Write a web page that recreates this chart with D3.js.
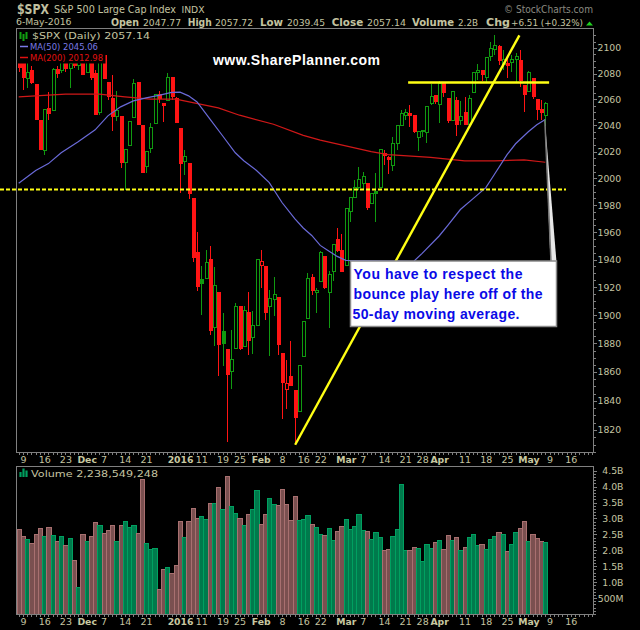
<![CDATA[<!DOCTYPE html>
<html><head><meta charset="utf-8">
<script src="https://cdn.jsdelivr.net/npm/d3@7"></script>
<style>html,body{margin:0;padding:0;background:#000;overflow:hidden}svg{display:block}</style>
</head><body><div id="c"></div>
<script>
const opens=[2094.5,2092.1,2075.8,2082,2071.1,2043.5,2020.7,2052.6,2051.1,2082.8,2082,2089,2083.6,2090.6,2085.9,2090.6,2081.2,2090.6,2079.7,2049.6,2094.5,2072.7,2060.4,2046.5,2046.5,2012.1,2024.5,2045.8,2072.7,2039.7,2008.8,2022.3,2041.2,2063.4,2056.5,2058.8,2076.6,2060.4,2037.4,2012.5,2011,1984.8,1945.3,1925.7,1926.4,1940.2,1891.5,1916.4,1888.7,1876,1860.6,1876.7,1906.4,1878.1,1902.2,1884.4,1893,1935.8,1935,1906.4,1911.4,1912.8,1873.2,1847.5,1857.1,1846.8,1833,1871.1,1897.9,1927.1,1916.4,1924.3,1942.3,1916.4,1931.5,1954.7,1946.7,1935.8,1975.2,1985.6,1993,1996,1996,1981,1990,1993,2018.5,2015.5,2009.5,2026,2039.7,2047.3,2048.8,2047.3,2030.6,2035.1,2034.4,2056.5,2062.7,2055.7,2071.9,2060.4,2043.5,2058.8,2043.5,2049.6,2040.4,2065,2080.8,2082,2077.3,2093.7,2099.2,2100.8,2087.1,2088.2,2088.6,2090.6,2089.8,2070.4,2065.7,2075.8,2059.6,2051.9,2047.77];
const highs=[2098.4,2094.5,2088.2,2085.9,2071.1,2044.3,2051.9,2065.7,2084.3,2085.9,2092.1,2092.1,2090.6,2093.7,2092.9,2092.9,2092.9,2094.5,2082.8,2098.4,2096.9,2072.7,2078.9,2066.5,2046.5,2021.5,2042.7,2075.8,2073.4,2039.7,2020,2042,2063.4,2066.5,2056.5,2080.5,2076.6,2061.9,2037.4,2021.5,2011,1984.8,1959.8,1935,1946.7,1949.6,1934.3,1916.4,1901.5,1876,1889.4,1908.5,1906.4,1906.4,1916.4,1902.9,1940.2,1946.7,1935,1917.8,1927.1,1912.8,1873.2,1868.3,1881.6,1846.8,1864.8,1895.8,1930,1929.3,1919.2,1946,1942.3,1931.5,1951,1962.7,1958.4,1977.4,1985.6,1999,2008.8,2005,1996,1988.5,2004.3,2021.5,2021.5,2017,2031.4,2039.7,2051.9,2052.6,2055.7,2047.3,2035.9,2036.6,2055,2071.9,2062.7,2074.2,2071.9,2060.4,2066.5,2061.9,2058.8,2061.9,2063.4,2081.2,2087.5,2082,2092.9,2104.7,2110.2,2102.4,2098.4,2092.9,2094.5,2096.1,2098.4,2070.4,2082,2075.8,2059.6,2059.6,2057.72];
const lows=[2081.2,2067.3,2068.8,2071.9,2044.3,2021.5,2017.8,2044.3,2051.1,2076.6,2080.5,2081.2,2068.8,2084.3,2082.8,2078.9,2081.2,2075,2048,2048,2075.8,2059.6,2035.9,2043.5,2008,1991.5,2024.5,2045.8,2040.4,2004.3,2004.3,2019.2,2041.2,2057.3,2042.7,2058.8,2059.6,2042,1989.3,2002.8,1984.8,1938,1917.1,1900,1926.4,1885.9,1878.1,1857.1,1864.1,1812,1848.2,1876.7,1875.3,1878.1,1871.8,1872.5,1893,1919.2,1896.5,1871.1,1899.3,1871.8,1827.6,1834.4,1850.9,1810,1833,1871.1,1897.9,1914.2,1901.5,1924.3,1918.5,1890.8,1924.3,1945.3,1930.7,1935.8,1967.8,1985.6,1991.5,1991.5,1976,1981,1967.8,1993,2010.3,2003.5,2005.8,2021.5,2039.7,2044.3,2039,2034.4,2020.7,2031.4,2026.8,2055.7,2056.5,2042,2061.9,2042,2043.5,2032.1,2040.4,2040.4,2040.4,2065,2075,2074.2,2072.7,2089.8,2094.5,2086.7,2082.8,2076.6,2081.2,2073.4,2069.6,2050.4,2065.7,2060.4,2044.3,2044.3,2039.45];
const closes=[2085.1,2077.3,2080.5,2073.4,2044.3,2021.5,2051.9,2048.8,2082.8,2079.7,2089,2084.3,2087.5,2086.3,2090.6,2078.9,2090.6,2077.3,2048,2098.4,2075.8,2061.9,2046.5,2051.1,2011.8,2021.5,2042.7,2071.9,2040.4,2004.3,2020,2038.2,2063.4,2060.4,2055,2077.3,2061.9,2042,2011.4,2016.3,1988.5,1941.6,1920.7,1922.8,1938,1889.4,1921.4,1879.5,1880.2,1858.5,1869,1906.4,1876.7,1903.6,1882.3,1893,1940.2,1938.7,1902.2,1912.1,1914.9,1879.5,1853,1852.3,1850.9,1828.3,1864.8,1895.8,1926.4,1917.8,1917.8,1945.3,1919.9,1929.3,1951,1946.7,1931.5,1977.4,1985.6,1993,1999,2001.3,1978.2,1988.5,1988.5,2021.5,2017,2014,2026,2039.7,2048.8,2049.6,2047.3,2035.1,2035.1,2035.9,2054.2,2061.9,2058,2071.9,2065,2043.5,2065.7,2040.4,2046.5,2040.4,2060.4,2081.2,2082,2078.9,2092.9,2100,2101.6,2089.8,2091,2085.9,2090.6,2093.7,2074.2,2063.4,2080.5,2061.9,2051.9,2049.6,2057.14];
const volumes=[2.67,2.45,2.36,2.23,2.52,2.70,2.45,2.73,2.48,2.29,2.45,2.17,2.39,1.70,0.85,2.51,2.29,2.45,2.89,2.80,2.54,2.64,2.80,2.29,2.80,2.92,2.73,2.80,2.54,4.24,2.23,2.04,2.07,0.79,1.41,1.48,1.29,1.54,2.92,2.42,2.92,3.33,3.02,3.08,2.98,3.49,3.49,3.99,3.30,4.33,3.39,3.17,3.02,2.80,3.14,3.30,3.90,2.83,3.14,3.64,3.46,3.42,3.93,3.46,2.95,3.71,2.95,2.98,3.11,2.83,2.73,2.51,2.48,2.70,2.32,2.61,2.76,2.98,2.67,2.76,3.14,2.64,2.61,2.36,2.58,2.42,2.01,2.04,2.45,2.67,4.08,2.01,2.01,2.10,2.07,1.66,2.20,2.07,2.26,2.32,2.04,2.48,2.32,2.42,2.01,2.10,2.42,2.51,2.17,2.20,2.04,2.36,2.45,2.58,2.51,1.98,2.20,2.58,2.70,2.92,2.29,2.51,2.39,2.29,2.26];
const ma50Idx=[0,4,7,10,14,18,21,24,27,30,33,36,38,40,42,45,48,51,53,56,59,62,65,67,69,71,73,75,77,93,95,99,101,104,107,110,112,115,117,120,122,124];
const ma50Val=[1996.2,2005.8,2011,2019.2,2027.6,2036.6,2047.3,2054.2,2058.8,2061.1,2063,2065.4,2065.5,2062.7,2058,2045,2032.1,2019.2,2013.2,2005.8,1996.7,1981.9,1970,1963.1,1957.6,1950.3,1946.2,1942.3,1939.4,1938.7,1944.5,1957.2,1964.9,1976.7,1984.8,1993,2002.8,2017.8,2026,2035.1,2040.4,2044.5];
const ma200Idx=[0,7,11,19,25,31,37,43,47,52,60,67,71,83,87,97,105,112,119,124];
const ma200Val=[2061.9,2063.2,2064,2064,2061.9,2060.1,2060.1,2056.1,2053.4,2047.8,2040.9,2032.4,2028.8,2020,2017.8,2015.7,2013,2013,2013.8,2012];
const dateIdx=[1,6,11,16,20,25,30,38,43,48,52,57,62,67,71,77,81,86,91,95,99,105,110,115,120,125,130];
const dateLabels=["9","16","23","Dec","7","14","21","2016","11","19","25","Feb","8","16","22","Mar","7","14","21","28","Apr","11","18","25","May","9","16"];
const priceTicks=[1820,1840,1860,1880,1900,1920,1940,1960,1980,2000,2020,2040,2060,2080,2100];
const volumeTicks=[0.5,1,1.5,2,2.5,3,3.5,4,4.5];
const support=1991.5, resistance=2073;
const trendIdx=[65.1,117.9], trendVal=[1810,2110];
const calloutLines=["You have to respect the","bounce play here off of the","50-day moving average."];

const W=640,H=630,TAN="#c4c4a0",GREY="#808080";
const svg=d3.select("#c").append("svg").attr("width",W).attr("height",H).style("background","#000");
const x=d3.scaleLinear().domain([0,124]).range([18.7,545.3]);
const y=d3.scaleLog().domain([1820,2100]).range([430,48]);
const v=d3.scaleLinear().domain([0,4.5]).range([614,470.7]);
const L=16.5,R=593.5,T=28.5,B=452.5,VT=466.5,VB=614.5;
const up=closes.map((c,i)=>i===0?false:c>=closes[i-1]);
const idx=d3.range(closes.length);

// volume
const bx=i=>Math.round(x(i)-2.1)+.5;
svg.append("g").selectAll("rect").data(idx).join("rect")
 .attr("x",bx).attr("width",i=>bx(i+1)-bx(i))
 .attr("y",i=>Math.round(v(volumes[i]))+.5).attr("height",i=>VB-Math.round(v(volumes[i]))-.5)
 .attr("fill",i=>up[i]?"#007a4c":"#7a5050").attr("stroke",i=>up[i]?"#00a060":"#a87070").attr("stroke-width",1)
 .attr("shape-rendering","crispEdges");

// candles
const cg=svg.append("g").attr("shape-rendering","crispEdges");
const col=i=>up[i]?"#109a10":"#ff1414";
const cx=i=>Math.round(x(i));
cg.selectAll("line").data(idx).join("line")
 .attr("x1",i=>cx(i)+.5).attr("x2",i=>cx(i)+.5)
 .attr("y1",i=>y(highs[i])).attr("y2",i=>y(lows[i])).attr("stroke",col);
cg.selectAll("rect").data(idx).join("rect")
 .attr("x",i=>cx(i)-1).attr("width",3)
 .attr("y",i=>y(Math.max(opens[i],closes[i]))).attr("height",i=>Math.max(1,Math.abs(y(opens[i])-y(closes[i]))))
 .attr("fill",i=>closes[i]>opens[i]?"#000":col(i))
 .attr("stroke",col).attr("stroke-width",1);

const line=d3.line().x(d=>x(d[0])).y(d=>y(d[1]));
svg.append("path").attr("d",line(ma200Idx.map((d,i)=>[d,ma200Val[i]]))).attr("fill","none").attr("stroke","#d01818").attr("stroke-width",1.2);
svg.append("path").attr("d",line(ma50Idx.map((d,i)=>[d,ma50Val[i]]))).attr("fill","none").attr("stroke","#6a6ad8").attr("stroke-width",1.2);

// legend background
svg.append("rect").attr("x",L+1).attr("y",T+1).attr("width",88).attr("height",34).attr("fill","#000");

// frames
const frame=svg.append("g").attr("fill","none").attr("stroke",GREY).attr("shape-rendering","crispEdges");
frame.append("path").attr("d",`M${L},${B}V${T}H${R}V${B}Z`);
frame.append("path").attr("d",`M${L},${VB}V${VT}H${R}V${VB}Z`);

// axes
function styleAxis(a,size){
 a.select(".domain").remove();
 a.selectAll("line").attr("stroke",GREY).attr("shape-rendering","crispEdges");
 a.selectAll("text").attr("fill",TAN).style("font-family","'DejaVu Sans'").style("font-size",size+"px");
}
const minorAxis=a=>{a.select(".domain").remove();a.selectAll("text").remove();a.selectAll("line").attr("stroke",GREY).attr("shape-rendering","crispEdges");};
const days=d3.range(0,136);
[B,VB].forEach(yy=>{
 svg.append("g").attr("transform",`translate(0,${yy})`).call(d3.axisBottom(x).tickValues(days).tickSize(2)).call(minorAxis);
 svg.append("g").attr("transform",`translate(0,${yy})`)
  .call(d3.axisBottom(x).tickValues(dateIdx).tickSize(0).tickPadding(3.5).tickFormat(d=>dateLabels[dateIdx.indexOf(d)]))
  .call(a=>{styleAxis(a,9.5);a.selectAll("line").remove();
   a.selectAll("text").each(function(){const t=d3.select(this).text();
    if(!/^\d{1,2}$/.test(t)) d3.select(this).style("font-weight","bold").style("font-size","9.3px").attr("fill","#c8c8a0");});
  });
});
svg.append("g").attr("transform",`translate(${R},0)`).call(d3.axisRight(y).tickValues(d3.range(1805,2115,5)).tickSize(2)).call(minorAxis);
svg.append("g").attr("transform",`translate(${R},0)`).call(d3.axisRight(y).tickValues(priceTicks).tickSize(3).tickPadding(1).tickFormat(d3.format("d"))).call(a=>styleAxis(a,9.3));
svg.append("g").attr("transform",`translate(${R},0)`).call(d3.axisRight(v).tickValues(d3.range(0,4.6,0.1)).tickSize(2)).call(minorAxis);
svg.append("g").attr("transform",`translate(${R},0)`).call(d3.axisRight(v).tickValues(volumeTicks).tickSize(3).tickPadding(2).tickFormat(d=>d<1?(d*1000)+"M":d.toFixed(1)+"B"))
 .call(a=>{styleAxis(a,9.3);a.selectAll("text").attr("text-anchor","end").attr("x",30);});

// overlays
const over=svg.append("g");
over.append("line").attr("x1",0).attr("x2",566).attr("y1",y(support)).attr("y2",y(support)).attr("stroke","#ffff14").attr("stroke-width",2).attr("stroke-dasharray","4 2");
over.append("line").attr("x1",x(91.7)).attr("x2",x(124.9)).attr("y1",y(resistance)).attr("y2",y(resistance)).attr("stroke","#ffff14").attr("stroke-width",2.4);
over.append("line").attr("x1",x(trendIdx[0])).attr("x2",x(trendIdx[1])).attr("y1",y(trendVal[0])).attr("y2",y(trendVal[1])).attr("stroke","#ffff14").attr("stroke-width",2.4);
over.append("path").attr("d",`M${x(124)-.5},${y(2044.5)}L550.5,262L556.5,262Z`).attr("fill","#e8e8e8");
over.append("path").attr("d",`M${x(124)-.5},${y(2044.5)}L551,262`).attr("stroke","#777").attr("stroke-width",1.5).attr("fill","none");
over.append("rect").attr("x",350.5).attr("y",261).attr("width",206).attr("height",65.5).attr("fill","#fff").attr("stroke","#8a8a8a").attr("stroke-width",1.5);
function txt(str,xx,yy,o={}){
 const t=svg.append("text").attr("x",xx).attr("y",yy).text(str)
  .attr("fill",o.c||TAN).style("font-family",o.f||"'DejaVu Sans'").style("font-size",(o.s||9.5)+"px").style("font-weight",o.b?"bold":"normal");
 if(o.w) t.attr("textLength",o.w).attr("lengthAdjust",o.a||"spacingAndGlyphs");
 return t;
}
calloutLines.forEach((s,i)=>txt(s,[353.5,353.5,352.5][i],[279,299,319][i],{c:"#0a0ae6",f:"'Liberation Sans'",s:14,b:1,w:[169,189,167][i],a:"spacing"}));
txt("www.SharePlanner.com",213,65,{c:"#fff",f:"'Liberation Sans'",s:14,b:1,w:167,a:"spacing"});

txt("$SPX",17,13.5,{b:1,s:14,w:32,c:"#c0c0a0"});
txt("S&P 500 Large Cap Index",54,12.5,{s:10,w:122});
txt("INDX",181.5,12.5,{s:9,w:23});
txt("6-May-2016",16,25,{s:9,w:55.5});
[["Open",111,28,1],["2047.77",143,38],["High",187.7,24,1],["2057.72",215,38],["Low",260,23,1],["2039.45",287,38],
 ["Close",331.7,31.5,1],["2057.14",367,39],["Volume",412,42,1],["2.2B",458,20],["Chg",486,24,1],["+6.51 (+0.32%)",511,72]]
 .forEach(d=>txt(d[0],d[1],25.5,{b:d[3],s:d[3]?10.5:9.5,w:d[2]}));
svg.append("path").attr("d","M586,25.5L589.5,21.5L593,25.5Z").attr("fill","#20d020");
txt("© StockCharts.com",504,12.5,{c:"#8a8a80",s:10,w:89});

txt("$SPX (Daily) 2057.14",32,38.5,{s:9.5,w:118});
txt("MA(50) 2045.06",30,49.5,{c:"#7a7ae6",s:9.5,w:68});
txt("MA(200) 2012.98",30,60.5,{c:"#e01010",s:9.5,w:73});
over.append("path").attr("d","M20,46.5H28").attr("stroke","#7a7ae6").attr("stroke-width",1.5);
over.append("path").attr("d","M20,57.5H28").attr("stroke","#e01010").attr("stroke-width",1.5);
over.append("path").attr("d","M20.5,32V39M23.5,34V41M26.5,32V39").attr("stroke","#10a010").attr("stroke-width",2);
txt("Volume 2,238,549,248",31,476.7,{s:9.5,w:127});
over.append("path").attr("d","M20.5,477V472M23.5,477V468.5M26.5,477V470.5").attr("stroke","#00a060").attr("stroke-width",2.2);
</script></body></html>]]>
